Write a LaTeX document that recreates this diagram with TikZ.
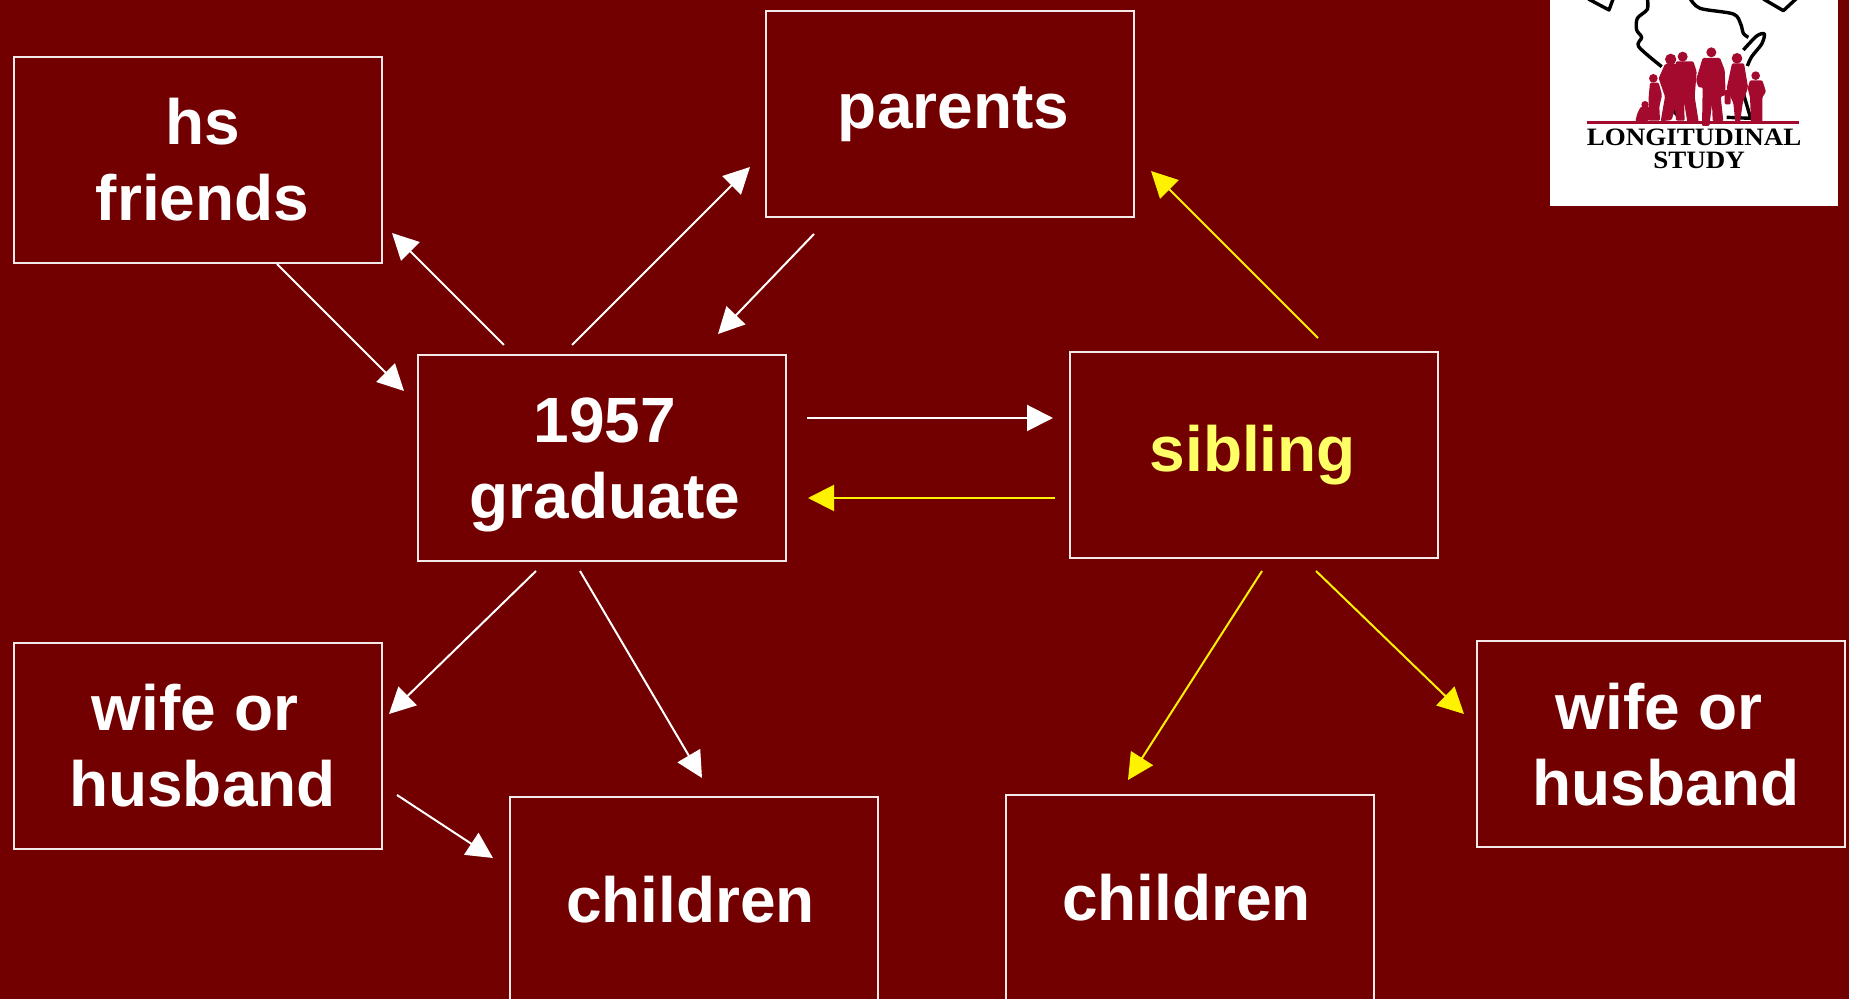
\documentclass[tikz,border=0pt]{standalone}
\usepackage{fontspec}
\setmainfont{Liberation Sans}
\newfontfamily\logofont[FakeStretch=1.08]{Liberation Serif}
\usetikzlibrary{arrows.meta}
\definecolor{wiscbg}{HTML}{720000}
\definecolor{wiscred}{HTML}{A30A2E}
\definecolor{boxline}{HTML}{F4E8E8}
\definecolor{sibyellow}{HTML}{FFFF66}
\begin{document}
\begin{tikzpicture}[x=0.5pt, y=-0.5pt,
                    main box/.style={rectangle,draw=boxline,line width=1pt,minimum width=184pt,minimum height=103pt,
                                     align=center,inner sep=0pt,text=white,font=\fontsize{32}{38}\selectfont\bfseries},
                    white arrow/.style={draw=white,line width=1pt,-{Triangle[length=13pt,width=13pt]}},
                    yellow arrow/.style={draw=yellow,line width=1pt,-{Triangle[length=13pt,width=13pt]}},
                    map line/.style={draw=black,line width=1.7pt,line join=round},
                    figure/.style={fill=wiscred,rounded corners=0.6pt},
                    logo text/.style={inner sep=0pt,black,anchor=base,font=\logofont\bfseries\fontsize{12.5}{13}\selectfont}]

   \fill[wiscbg] (0,0) rectangle (1849,999);
   \useasboundingbox (0,0) rectangle (1849,999);

   \node[main box] (grad) at (601.5,458) {\rule{0pt}{29pt}\hspace*{3.5pt}1957\\\hspace*{3.5pt}graduate};
   \node[main box] (sibling) [right of=grad, node distance=326.25pt, yshift=1.25pt] {\textcolor{sibyellow}{sibling}\hspace*{1.2pt}};
   \node[main box] (parents) [above of=grad, node distance=172pt, xshift=174.25pt] {\hspace*{3.5pt}parents};
   \node[main box] (hs) [left of=grad, node distance=201.75pt, yshift=149pt] {\hspace*{5pt}hs\\\hspace*{4.5pt}friends};
   \node[main box] (wifeL) [left of=grad, node distance=201.75pt, yshift=-144pt] {wife or\hspace*{3pt}\\\hspace*{4.5pt}husband};
   \node[main box] (childL) [below of=grad, node distance=221pt, xshift=46.25pt] {children\hspace*{3.5pt}};
   \node[main box] (childR) [below of=sibling, node distance=221.25pt, xshift=-32pt] {children\hspace*{3.5pt}};
   \node[main box] (wifeR) [right of=sibling, node distance=203.5pt, yshift=-144.5pt] {wife or\hspace*{2pt}\\\hspace*{5pt}husband};

   % white arrows
   \draw[white arrow] ([shift={(79,104)}]hs.center) -- ([shift={(-197.5,-67)}]grad.center);
   \draw[white arrow] ([shift={(-97.5,-113)}]grad.center) -- ([shift={(194,73)}]hs.center);
   \draw[white arrow] ([shift={(-29.5,-113)}]grad.center) -- ([shift={(-200,53)}]parents.center);
   \draw[white arrow] ([shift={(-136,120)}]parents.center) -- ([shift={(116.5,-124)}]grad.center);
   \draw[white arrow] ([shift={(205.5,-40)}]grad.center) -- ([shift={(-201,-37.5)}]sibling.center);
   \draw[white arrow] ([shift={(-65.5,113)}]grad.center) -- ([shift={(191,-32)}]wifeL.center);
   \draw[white arrow] ([shift={(-21.5,113)}]grad.center) -- ([shift={(8,-122)}]childL.center);
   \draw[white arrow] ([shift={(199,49)}]wifeL.center) -- ([shift={(-201,-42)}]childL.center);

   % yellow arrows
   \draw[yellow arrow] ([shift={(-199,42.5)}]sibling.center) -- ([shift={(206.5,40)}]grad.center);
   \draw[yellow arrow] ([shift={(64,-117.5)}]sibling.center) -- ([shift={(201,57)}]parents.center);
   \draw[yellow arrow] ([shift={(8,115.5)}]sibling.center) -- ([shift={(-62,-118)}]childR.center);
   \draw[yellow arrow] ([shift={(62,115.5)}]sibling.center) -- ([shift={(-197,-30.5)}]wifeR.center);

   % logo
   \fill[white] (1550,0) rectangle (1838,206);
   \begin{scope}[shift={(1530,0)}, x=0.16667pt, y=-0.16667pt]
     \begin{scope}
       \clip (60,0) rectangle (924,617);
       \draw[map line] plot[smooth] coordinates {(352,-5) (352,28) (322,55) (320,90) (335,112) (326,140) (395,200)};
       \draw[map line] plot[smooth] coordinates {(480,-5) (510,25) (610,42) (632,72) (640,100) (655,112)};
       \draw[map line] plot[smooth] coordinates {(640,150) (680,108) (703,102) (695,132) (665,170) (652,198)};
       \draw[map line] (175,-3) -- (237,30) -- (250,-5);
       \draw[map line] (700,-3) -- (760,32) -- (800,-5);
       \draw[map line] plot[smooth] coordinates {(437,290) (430,330) (450,352)};
       \draw[map line] (640,280) -- (662,355) -- (590,352);
     \end{scope}
     % baby
     \fill[wiscred] (345,314) circle (11);
     \fill[figure] (332,320) -- (360,322) -- (358,362) -- (316,364) -- (322,340) -- cycle;
     % child, left
     \fill[wiscred] (370,235) circle (13);
     \fill[figure] (360,248) -- (386,248) -- (396,285) -- (388,320) -- (390,362) -- (356,362) -- (356,290) -- cycle;
     % woman, left
     \fill[wiscred] (422,178) circle (17);
     \fill[figure] (405,192) -- (445,192) -- (445,290) -- (425,360) -- (392,364) -- (405,290) -- (386,235) -- cycle;
     % man, left
     \fill[wiscred] (458,170) circle (15);
     \fill[figure] (438,184) -- (490,184) -- (500,215) -- (494,290) -- (506,366) -- (472,366) -- (462,305) -- (464,362) -- (438,362) -- (430,250) -- cycle;
     % man, centre
     \fill[wiscred] (544,157) circle (15);
     \fill[figure] (518,174) -- (570,174) -- (584,210) -- (587,285) -- (572,290) -- (580,364) -- (548,364) -- (546,312) -- (538,378) -- (516,378) -- (518,262) -- (505,262) -- (498,240) -- cycle;
     % woman, right
     \fill[wiscred] (621,175) circle (16);
     \fill[figure] (606,190) -- (642,190) -- (654,262) -- (638,310) -- (630,368) -- (616,368) -- (610,310) -- (590,265) -- cycle;
     \fill[figure] (584,270) -- (602,270) -- (602,313) -- (584,313) -- cycle;
     % child, right
     \fill[wiscred] (677,227) circle (13);
     \fill[figure] (660,241) -- (697,241) -- (708,275) -- (697,292) -- (697,366) -- (663,366) -- (660,292) -- (653,265) -- cycle;
     % rule and name
     \fill[wiscred] (170,364) rectangle (808,373);
     \node[logo text] (logotop) at (492,437) {LONGITUDINAL};
     \node[logo text] (logobot) at (507,507) {STUDY};
   \end{scope}

\end{tikzpicture}
\end{document}
